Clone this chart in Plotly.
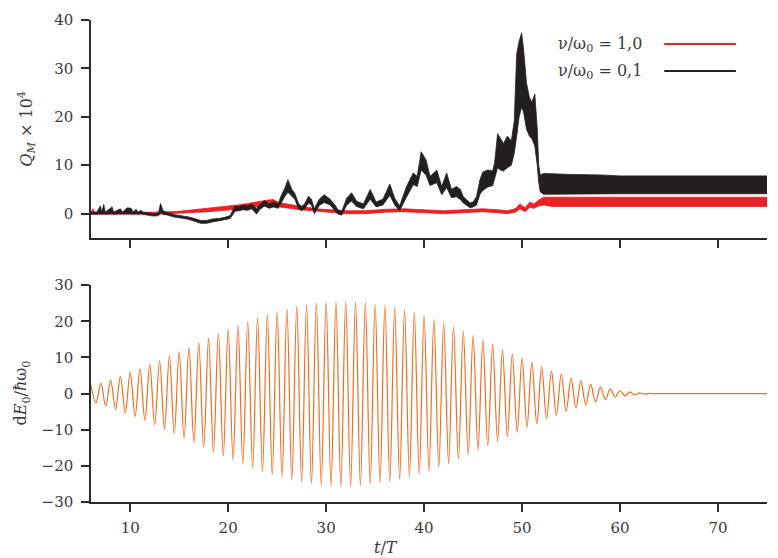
import plotly.graph_objects as go

# ---------------- data ----------------
# Top panel, nu/omega0 = 0.1 (black): time, upper and lower edge of the noisy trace
t_black = [6.0, 6.6, 6.95, 7.1, 7.3, 7.45, 8.15, 8.3, 9.0, 9.2, 9.7, 10.1, 10.3, 10.6, 10.8,
           11.1, 11.3, 12.0, 12.5, 12.9, 13.1, 13.35, 13.8, 14.5, 15.2, 16.0, 16.7, 17.2,
           17.8, 18.4, 19.0, 19.6, 20.2, 20.7, 21.1, 21.5, 22.0, 22.4, 22.9, 23.2, 23.7,
           24.2, 24.6, 25.1, 25.45, 25.8, 26.1, 26.5, 26.8, 27.2, 27.5, 27.8, 28.2, 28.5,
           28.8, 29.3, 29.8, 30.4, 30.9, 31.2, 31.6, 32.1, 32.6, 33.1, 33.8, 34.5, 35.1,
           35.8, 36.5, 37.0, 37.5, 38.2, 38.9, 39.3, 39.7, 40.2, 40.6, 41.3, 41.8, 42.3,
           42.8, 43.3, 43.7, 44.0, 44.7, 45.0, 45.35, 45.7, 46.0, 46.5, 47.0, 47.2, 47.5,
           47.8, 48.1, 48.5, 48.9, 49.2, 49.45, 49.7, 49.95, 50.15, 50.45, 50.75, 51.0,
           51.3, 51.55, 51.7, 51.85, 52.2, 53.0, 55.0, 58.0, 60.0, 75.0]
black_hi = [0.3, 0.3, 1.6, 0.3, 1.9, 0.3, 1.4, 0.3, 1.0, 0.3, 1.2, 1.1, 0.3, 0.9, 0.3,
            0.7, 0.3, 0.1, 0.0, 0.2, 2.1, 0.6, 0.2, -0.2, -0.4, -0.7, -1.1, -1.4,
            -1.4, -1.1, -1.0, -0.8, -0.4, 1.6, 1.4, 1.8, 1.6, 2.0, 1.0, 1.8, 2.7,
            2.0, 2.4, 2.0, 3.9, 5.3, 7.0, 5.0, 4.2, 2.0, 1.5, 2.0, 3.6, 3.0,
            1.0, 3.0, 3.9, 3.0, 1.8, 0.8, 0.5, 3.2, 4.3, 2.6, 2.0, 5.0, 2.4,
            3.0, 6.1, 3.2, 1.6, 5.6, 8.4, 7.7, 12.8, 11.1, 7.7, 9.0, 5.6, 8.4,
            5.0, 5.6, 5.0, 3.5, 2.2, 2.4, 3.5, 7.0, 8.6, 9.0, 8.8, 10.5, 16.5,
            15.5, 14.5, 16.0, 15.0, 19.0, 33.0, 35.6, 37.3, 34.0, 27.0, 24.0, 23.0,
            24.7, 17.5, 10.0, 8.0, 8.3, 8.2, 8.1, 8.0, 7.8, 7.8]
black_lo = [-0.1, -0.1, 0.0, -0.1, 0.0, -0.1, 0.0, -0.1, 0.0, -0.1, 0.0, 0.0, -0.1, 0.0, -0.1,
            0.0, -0.1, -0.4, -0.5, -0.4, 0.3, -0.1, -0.3, -0.7, -0.9, -1.2, -1.6, -2.0,
            -2.0, -1.7, -1.5, -1.3, -1.0, 0.5, 0.6, 0.8, 0.7, 1.0, -0.1, 0.8, 1.6,
            1.1, 1.4, 1.1, 2.4, 3.6, 4.4, 3.6, 3.0, 1.0, 0.6, 1.0, 2.2, 1.8,
            0.0, 1.7, 2.3, 1.8, 0.7, -0.1, -0.3, 1.8, 2.6, 1.5, 1.0, 3.0, 1.4,
            1.8, 3.8, 1.8, 0.6, 3.4, 6.0, 5.6, 9.0, 8.0, 5.8, 6.4, 3.9, 5.4,
            3.3, 3.5, 2.9, 2.2, 1.2, 1.4, 1.8, 4.0, 4.8, 5.5, 5.8, 7.0, 9.5,
            9.0, 8.8, 9.5, 10.0, 12.5, 16.0, 20.0, 22.0, 21.0, 17.5, 16.0, 15.5,
            14.0, 10.0, 6.5, 4.5, 4.0, 4.1, 4.1, 4.1, 4.1, 4.1]

# Top panel, nu/omega0 = 1.0 (red)
t_red = [6.0, 6.2, 6.4, 7.8, 7.95, 8.1, 12.0, 13.0, 14.0, 15.0, 16.0, 17.0, 18.0, 19.0,
         20.0, 21.0, 22.0, 23.0, 24.0, 24.6, 25.2, 26.0, 27.0, 28.0, 29.0, 30.0, 32.0,
         34.0, 36.0, 38.0, 40.0, 42.0, 44.0, 46.0, 47.5, 48.5, 49.3, 49.8, 50.3, 50.8,
         51.2, 51.7, 52.2, 53.0, 75.0]
red_hi = [0.3, 1.0, 0.3, 0.3, 0.9, 0.3, 0.3, 0.3, 0.4, 0.5, 0.7, 0.9, 1.1, 1.3,
          1.5, 1.8, 2.1, 2.5, 2.8, 2.9, 2.3, 2.0, 1.6, 1.3, 1.0, 0.9, 0.6,
          0.6, 0.9, 1.0, 0.8, 0.6, 0.8, 1.0, 0.8, 0.6, 1.0, 2.0, 1.2, 2.4,
          2.0, 2.8, 3.4, 3.4, 3.4]
red_lo = [-0.1, -0.1, -0.1, -0.1, -0.1, -0.1, -0.1, -0.1, 0.0, 0.05, 0.15, 0.3, 0.4, 0.5,
          0.7, 0.9, 1.1, 1.4, 1.7, 1.8, 1.4, 1.2, 0.9, 0.7, 0.4, 0.3, 0.0,
          0.0, 0.3, 0.4, 0.2, 0.0, 0.2, 0.4, 0.2, 0.0, 0.3, 1.0, 0.4, 1.3,
          1.1, 1.6, 1.8, 1.5, 1.5]

# Bottom panel: dE0/(hbar omega0), maxima at integer t and minima at half-integer t
t_max = [6, 7, 8, 9, 10, 11, 12, 13, 14, 15, 16, 17, 18, 19, 20, 21, 22, 23, 24, 25, 26,
         27, 28, 29, 30, 31, 32, 33, 34, 35, 36, 37, 38, 39, 40, 41, 42, 43, 44, 45, 46,
         47, 48, 49, 50, 51, 52, 53, 54, 55, 56, 57, 58, 59, 60, 61, 62, 63]
e_max = [2.3, 2.9, 3.8, 4.8, 5.9, 6.9, 8.0, 9.1, 10.3, 11.6, 12.8, 14.1, 15.4, 16.7, 17.8,
         18.9, 19.9, 20.9, 21.9, 22.8, 23.4, 24.1, 24.6, 25.0, 25.3, 25.5, 25.5, 25.4,
         25.1, 24.7, 24.4, 23.8, 23.2, 22.4, 21.6, 20.5, 19.5, 18.4, 17.3, 16.1, 14.9,
         13.7, 12.2, 11.0, 9.8, 8.8, 7.4, 6.3, 5.3, 4.3, 3.5, 2.6, 1.8, 1.3, 0.8, 0.4,
         0.2, 0.05]
t_min = [6.5, 7.5, 8.5, 9.5, 10.5, 11.5, 12.5, 13.5, 14.5, 15.5, 16.5, 17.5, 18.5, 19.5,
         20.5, 21.5, 22.5, 23.5, 24.5, 25.5, 26.5, 27.5, 28.5, 29.5, 30.5, 31.5, 32.5,
         33.5, 34.5, 35.5, 36.5, 37.5, 38.5, 39.5, 40.5, 41.5, 42.5, 43.5, 44.5, 45.5,
         46.5, 47.5, 48.5, 49.5, 50.5, 51.5, 52.5, 53.5, 54.5, 55.5, 56.5, 57.5, 58.5,
         59.5, 60.5, 61.5, 62.5, 63.5]
e_min = [-2.6, -3.5, -4.3, -5.3, -6.3, -7.4, -8.6, -9.9, -11.1, -12.4, -13.6, -14.9, -16.2,
         -17.3, -18.4, -19.5, -20.6, -21.6, -22.4, -23.1, -23.9, -24.5, -25.0, -25.5,
         -25.7, -25.8, -25.7, -25.4, -25.1, -24.7, -24.3, -23.7, -23.0, -22.3, -21.4,
         -20.4, -19.3, -18.1, -16.9, -15.7, -14.4, -13.2, -11.9, -10.7, -9.4, -8.3,
         -7.0, -6.0, -4.9, -4.0, -3.1, -2.3, -1.6, -1.0, -0.6, -0.35, -0.15, 0.0]
t_tail = [75.0]
e_tail = [0.0]

top_yticks = [0, 10, 20, 30, 40]
bot_yticks = [-30, -20, -10, 0, 10, 20, 30]
xticks = [10, 20, 30, 40, 50, 60, 70]
legend_labels = ["ν/ω<sub>0</sub> = 1,0", "ν/ω<sub>0</sub> = 0,1"]

# ---------------- figure ----------------
FONT = "DejaVu Serif"
AX = "#2a2a2a"
TXT = "#3a3a3a"
RED = "#ED2024"
BLACK = "#231F20"
ORANGE = "#F26C21"

fig = go.Figure()

fig.add_trace(go.Scatter(
    x=t_red + t_red[::-1], y=red_hi + red_lo[::-1], fill="toself",
    fillcolor=RED, line=dict(color=RED, width=0.8), mode="lines",
    xaxis="x", yaxis="y", showlegend=False, hoverinfo="skip"))
fig.add_trace(go.Scatter(
    x=t_black + t_black[::-1], y=black_hi + black_lo[::-1], fill="toself",
    fillcolor=BLACK, line=dict(color=BLACK, width=0.8), mode="lines",
    xaxis="x", yaxis="y", showlegend=False, hoverinfo="skip"))

te, ee = [], []
for a, b, c, d in zip(t_max, e_max, t_min, e_min):
    te += [a, c]
    ee += [b, d]
te += t_tail
ee += e_tail
fig.add_trace(go.Scatter(
    x=te, y=ee, mode="lines", line=dict(color=ORANGE, width=1.2, shape="spline", smoothing=1),
    xaxis="x2", yaxis="y2", showlegend=False, hoverinfo="skip"))

common_axis = dict(showline=True, linecolor=AX, linewidth=1.5, ticks="outside",
                   ticklen=8, tickwidth=1.5, tickcolor=AX, showgrid=False, zeroline=False,
                   tickfont=dict(family=FONT, size=15, color=TXT))

fig.update_layout(
    width=778, height=558, plot_bgcolor="white", paper_bgcolor="white",
    margin=dict(l=91, r=11, t=15, b=56),
    xaxis=dict(domain=[0, 1], range=[6, 75], tickvals=xticks, showticklabels=False,
               anchor="y", **common_axis),
    yaxis=dict(domain=[0.548, 1.0], range=[-5, 40], tickvals=top_yticks, anchor="x",
               ticklabelstandoff=5, **common_axis),
    xaxis2=dict(domain=[0, 1], range=[6, 75], tickvals=xticks, anchor="y2",
                ticklabelstandoff=3, **common_axis),
    yaxis2=dict(domain=[0, 0.4497], range=[-30, 30], tickvals=bot_yticks, anchor="x2",
                ticklabelstandoff=5, **common_axis),
    showlegend=False,
)

ann_font = dict(family=FONT, size=16, color=TXT)
fig.add_annotation(text="<i>Q</i><sub><i>M</i></sub> × 10<sup>4</sup>", textangle=-90,
                   xref="paper", yref="paper", x=-0.095, y=0.774, showarrow=False,
                   xanchor="center", yanchor="middle", font=ann_font)
fig.add_annotation(text="d<i>E</i><sub>0</sub>/<i>ħ</i>ω<sub>0</sub>", textangle=-90,
                   xref="paper", yref="paper", x=-0.103, y=0.226, showarrow=False,
                   xanchor="center", yanchor="middle", font=ann_font)
fig.add_annotation(text="<i>t</i>/<i>T</i>", xref="paper", yref="paper", x=0.436, y=-0.0945,
                   showarrow=False, xanchor="center", yanchor="middle", font=ann_font)

# legend (text on the left, line sample on the right)
for label, col, yp in zip(legend_labels, [RED, BLACK], [0.949, 0.893]):
    fig.add_annotation(text=label, xref="paper", yref="paper", x=0.818, y=yp,
                       showarrow=False, xanchor="right", yanchor="middle", font=ann_font)
    fig.add_shape(type="line", xref="paper", yref="paper", x0=0.848, x1=0.954, y0=yp + 0.001,
                  y1=yp + 0.001, line=dict(color=col, width=2))

fig.write_html("out.html", config={"displayModeBar": False},
               post_script="document.body.style.margin='0px';document.body.style.padding='0px';")
